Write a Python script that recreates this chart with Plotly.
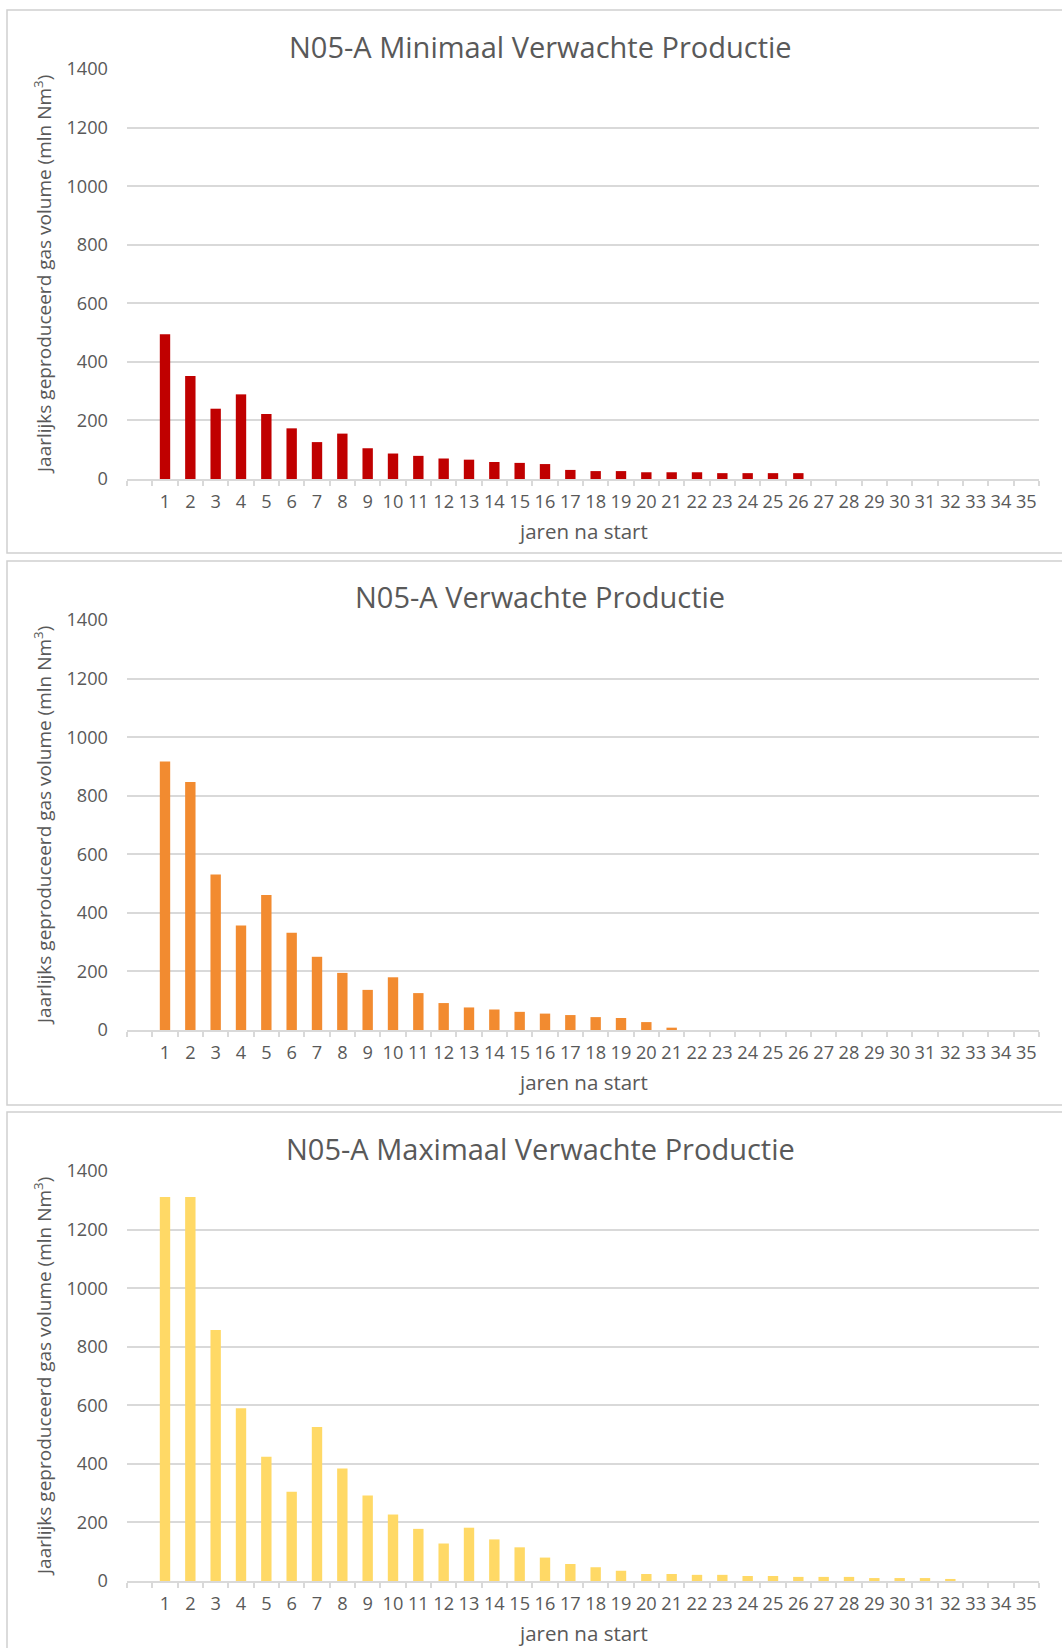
import plotly.graph_objects as go

# ---------------- data ----------------
categories = [str(i) for i in range(1, 36)]
axis_categories = [" "] + categories

titles = [
    "N05-A Minimaal Verwachte Productie",
    "N05-A Verwachte Productie",
    "N05-A Maximaal Verwachte Productie",
]

min_values = [494, 352, 240, 289, 222, 173, 126, 155, 105, 87, 79, 70, 66, 58, 55,
              51, 31, 27, 27, 23, 23, 23, 20, 20, 20, 20]
exp_values = [917, 847, 531, 357, 461, 332, 250, 195, 137, 180, 126, 92, 77, 70, 62,
              56, 51, 44, 41, 27, 8]
max_values = [1311, 1311, 857, 590, 424, 305, 526, 384, 292, 227, 178, 128, 182, 142, 115,
              80, 58, 47, 35, 24, 24, 21, 21, 17, 17, 14, 14, 14, 10, 10, 10, 7]

y_ticks = [0, 200, 400, 600, 800, 1000, 1200, 1400]
x_title = "jaren na start"
y_title = "Jaarlijks geproduceerd gas volume (mln Nm<sup>3</sup>)"

# ---------------- style ----------------
W, H = 1062, 1648
FONT = "Open Sans"
TXT = "#595959"
GRID = "#d9d9d9"
BORDER = "#d0d0d0"
colors = ["#C00000", "#F28B30", "#FFD966"]
panel_tops = [10, 561, 1112]
panel_bottoms = [553, 1105, 1660]
plot_left, plot_right = 127, 1039


def py(p):
    return 1 - p / H


def px(p):
    return p / W


series = [min_values, exp_values, max_values]

fig = go.Figure()
annotations = []
shapes = []
layout_axes = {}

for i, (vals, col, title, top, bot) in enumerate(zip(series, colors, titles, panel_tops, panel_bottoms)):
    sfx = "" if i == 0 else str(i + 1)
    fig.add_trace(go.Bar(
        x=axis_categories[1:len(vals) + 1],
        y=vals,
        marker=dict(color=col, line=dict(width=0)),
        xaxis="x" + sfx, yaxis="y" + sfx,
        showlegend=False,
        hoverinfo="x+y",
    ))
    layout_axes["xaxis" + sfx] = dict(
        domain=[px(plot_left), px(plot_right)],
        anchor="y" + sfx,
        automargin=False,
        type="category",
        categoryorder="array",
        categoryarray=axis_categories,
        range=[-0.5, 35.5],
        tickmode="linear", tick0=0, dtick=1,
        tickson="boundaries",
        ticks="outside", ticklen=5, tickwidth=1.5, tickcolor=GRID,
        showline=True, linecolor=GRID, linewidth=1.5,
        showgrid=False, zeroline=False,
        tickangle=0,
        ticklabelstandoff=5,
        tickfont=dict(family=FONT, size=18.2, color=TXT),
        fixedrange=True,
    )
    layout_axes["yaxis" + sfx] = dict(
        domain=[py(top + 469), py(top + 59)],
        anchor="x" + sfx,
        automargin=False,
        range=[0, 1400],
        tickmode="array", tickvals=y_ticks,
        showgrid=True, gridcolor=GRID, gridwidth=1.5,
        zeroline=False, showline=False, ticks="",
        ticklabelstandoff=18,
        tickfont=dict(family=FONT, size=18.2, color=TXT),
        fixedrange=True,
    )
    # panel border
    shapes.append(dict(type="rect", xref="paper", yref="paper",
                       x0=px(7), x1=px(1075), y0=py(bot), y1=py(top),
                       line=dict(color=BORDER, width=1.5), fillcolor="rgba(0,0,0,0)"))
    # panel title
    annotations.append(dict(text=title, xref="paper", yref="paper",
                            x=px(540), y=py(top + 36), xanchor="center", yanchor="middle",
                            showarrow=False, font=dict(family=FONT, size=29, color=TXT)))
    # x axis title
    annotations.append(dict(text=x_title, xref="paper", yref="paper",
                            x=px(583), y=py(top + 521), xanchor="center", yanchor="middle",
                            showarrow=False, font=dict(family=FONT, size=20.5, color=TXT)))
    # y axis title
    annotations.append(dict(text=y_title, xref="paper", yref="paper",
                            x=px(43), y=py(top + 265), xanchor="center", yanchor="middle",
                            textangle=-90, showarrow=False,
                            font=dict(family=FONT, size=19, color=TXT)))

fig.update_layout(
    width=W, height=H,
    margin=dict(l=0, r=0, t=0, b=0, pad=0, autoexpand=False),
    paper_bgcolor="white", plot_bgcolor="white",
    bargap=0.59,
    showlegend=False,
    font=dict(family=FONT, color=TXT),
    annotations=annotations,
    shapes=shapes,
    **layout_axes,
)

fig.write_html(
    "out.html",
    config={"displayModeBar": False},
    post_script=(
        "var gd=document.getElementById('{plot_id}');"
        "gd.style.position='absolute';gd.style.top='0px';gd.style.left='0px';"
        "document.body.style.margin='0';document.body.style.padding='0';"
        "document.body.style.overflow='hidden';"
        "document.documentElement.style.overflow='hidden';"
    ),
)
